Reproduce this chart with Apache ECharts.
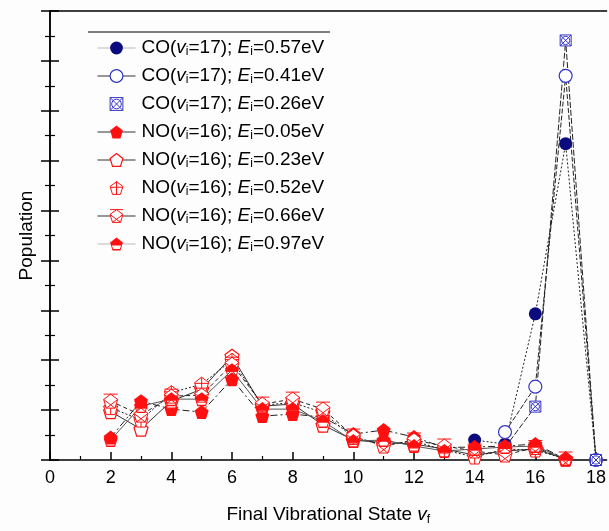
<!DOCTYPE html>
<html><head><meta charset="utf-8">
<script src="https://cdn.jsdelivr.net/npm/echarts@6/dist/echarts.min.js"></script>
<style>html,body{margin:0;padding:0;background:#fdfdfd}#c{width:609px;height:531px}</style>
</head><body><div id="c"></div>
<script>
// ---- data ----
const xTicks = [0,2,4,6,8,10,12,14,16,18];
const coX = [14,15,16,17,18];
const co057 = [0.40, 0.32, 2.93, 6.34, 0];
const co041x = [15,16,17,18];
const co041 = [0.56, 1.47, 7.70, 0];
const co026x = [15,16,17,18];
const co026 = [0.25, 1.07, 8.41, 0];
const noX = [2,3,4,5,6,7,8,9,10,11,12,13,14,15,16,17];
const no005 = [0.45,1.18,1.02,0.96,1.62,0.88,0.92,0.86,0.52,0.60,0.46,0.25,0.26,0.28,0.32,0.02];
const no023 = [0.97,0.62,1.18,1.42,2.08,1.08,1.12,0.70,0.40,0.35,0.32,0.22,0.10,0.18,0.22,0.02];
const no052 = [1.05,0.80,1.35,1.52,2.00,1.10,1.15,0.95,0.45,0.30,0.38,0.20,0.06,0.22,0.20,0.02];
const no066 = [1.18,0.90,1.28,1.30,1.92,1.12,1.22,1.02,0.48,0.28,0.40,0.28,0.18,0.10,0.25,0.02];
const no097 = [0.40,1.08,1.22,1.22,1.80,1.02,1.02,0.78,0.38,0.40,0.28,0.18,0.22,0.26,0.28,0.02];
const names = ['CO|17|0.57','CO|17|0.41','CO|17|0.26','NO|16|0.05','NO|16|0.23','NO|16|0.52','NO|16|0.66','NO|16|0.97'];

const zip = (xs, ys) => xs.map((x,i)=>[x, ys[i]]);

const PENT = 'M0,-1 L0.951,-0.309 L0.588,0.809 L-0.588,0.809 L-0.951,-0.309 Z';
const symPent = 'path://' + PENT;
const symPentPlus = 'path://' + PENT + ' M0,-1 L0,0.809 M-0.951,-0.2 L0.951,-0.2';
const symPentX = 'path://' + PENT + ' M-0.951,-0.309 L0.588,0.809 M0.951,-0.309 L-0.588,0.809 M-0.951,-1 L0.951,-1';
const symHalf = 'path://' + PENT + ' M-0.68,0.12 L-0.5,0.62 L0.5,0.62 L0.68,0.12 Z';
const symBoxX = 'path://M-1,-1 L1,-1 L1,1 L-1,1 Z M-1,-1 L1,1 M1,-1 L-1,1 M0.75,0 A0.75,0.75 0 1 1 -0.75,0 A0.75,0.75 0 1 1 0.75,0';

const RED = '#ff1010', NAVY = '#0b0b7e', BLUE = '#3434c8', BG = '#fdfdfd';

function mk(name, data, symbol, size, itemStyle, lineType, lineColor){
  return {name, type:'line', data, symbol, symbolSize:size, itemStyle,
    lineStyle:{color: lineColor || '#222', width:1, type:lineType},
    emphasis:{disabled:true}, animation:false, z: 3};
}
const styles = [
  {color:NAVY},
  {color:BG, borderColor:BLUE, borderWidth:1.2},
  {color:BG, borderColor:BLUE, borderWidth:1},
  {color:RED},
  {color:BG, borderColor:RED, borderWidth:1.2},
  {color:BG, borderColor:RED, borderWidth:1},
  {color:BG, borderColor:RED, borderWidth:1},
  {color:RED}
];
const series = [
  mk(names[0], zip(coX, co057), 'circle', 13, styles[0], [2,2]),
  mk(names[1], zip(co041x, co041), 'circle', 13, styles[1], [5,2]),
  mk(names[2], zip(co026x, co026), symBoxX, 11, styles[2], [6,2]),
  mk(names[3], zip(noX, no005), symPent, 14, styles[3], [7,3,2,3]),
  mk(names[4], zip(noX, no023), symPent, 14, styles[4], 'solid', '#333'),
  mk(names[5], zip(noX, no052), symPentPlus, 14, styles[5], [2,2]),
  mk(names[6], zip(noX, no066), symPentX, 14, styles[6], [4,3]),
  mk(names[7], zip(noX, no097), symHalf, 14, styles[7], 'solid', '#555')
];

const legendLines = ['#bbb','#333',null,'#333','#333',null,'#333','#bbb'];

const chart = echarts.init(document.getElementById('c'), null, {renderer:'canvas'});
chart.setOption({
  backgroundColor:BG,
  animation:false,
  textStyle:{fontFamily:'Liberation Sans, Arial, sans-serif'},
  grid:{left:50, top:11, right:0, bottom:68},
  legend:{
    orient:'vertical', left:92, top:33, itemWidth:38, itemHeight:16, itemGap:8,
    selectedMode:false,
    data: names.map((n,i)=>({name:n, itemStyle: styles[i],
      lineStyle: legendLines[i] ? {color:legendLines[i], width:1, type:'solid'} : {width:0, opacity:0}})),
    formatter: (n)=>{ const p=n.split('|'); return `{n|${p[0]}(}{i|v}{s|i}{n|=${p[1]}); }{i|E}{s|i}{n|=${p[2]}eV}`; },
    textStyle:{color:'#000', fontSize:19, padding:[0,0,0,1], rich:{
      n:{fontSize:19, lineHeight:22, fontFamily:'Liberation Sans', color:'#000'},
      i:{fontSize:19, lineHeight:22, fontStyle:'italic', fontFamily:'Liberation Sans', color:'#000'},
      s:{fontSize:12, lineHeight:14, fontFamily:'Liberation Sans', color:'#000', padding:[8,0,0,0]}
    }}
  },
  graphic:[{type:'line', shape:{x1:88, y1:32, x2:330, y2:32}, style:{stroke:'#000', lineWidth:1}}],
  xAxis:[{
    type:'value', min:0, max:18.35, interval:2,
    axisLine:{lineStyle:{color:'#000', width:1.5}},
    axisTick:{inside:true, length:8, lineStyle:{color:'#000', width:1.5}, customValues: xTicks},
    minorTick:{show:true, splitNumber:2, length:4, lineStyle:{color:'#000', width:1.2}},
    axisLabel:{color:'#000', fontSize:18, margin:9, customValues: xTicks},
    splitLine:{show:false},
    name:'{n|Final Vibrational State }{i|v}{s|f}', nameLocation:'middle', nameGap:44,
    nameTextStyle:{rich:{
      n:{fontSize:19, color:'#000', fontFamily:'Liberation Sans'},
      i:{fontSize:19, fontStyle:'italic', color:'#000', fontFamily:'Liberation Sans'},
      s:{fontSize:12, color:'#000', fontFamily:'Liberation Sans', padding:[10,0,0,0]}
    }}
  },{
    type:'value', position:'top', min:0, max:18.35,
    axisLine:{show:true, onZero:false, lineStyle:{color:'#000', width:1.5}},
    axisTick:{show:false}, axisLabel:{show:false}, splitLine:{show:false}
  }],
  yAxis:[{
    type:'value', min:0, max:9, interval:1,
    axisLine:{show:true, lineStyle:{color:'#000', width:1.5}},
    axisTick:{show:true, inside:true, length:9, lineStyle:{color:'#000', width:1.5}},
    minorTick:{show:true, splitNumber:2, length:5, lineStyle:{color:'#000', width:1.2}},
    axisLabel:{show:false}, splitLine:{show:false},
    name:'Population', nameLocation:'middle', nameGap:14,
    nameTextStyle:{fontSize:19, color:'#000', fontFamily:'Liberation Sans'}
  },{
    type:'value', position:'right', min:0, max:9, interval:1,
    axisLine:{show:true, lineStyle:{color:'#000', width:1.5}},
    axisTick:{show:true, inside:true, length:9, lineStyle:{color:'#000', width:1.5}},
    minorTick:{show:true, splitNumber:2, length:5, lineStyle:{color:'#000', width:1.2}},
    axisLabel:{show:false}, splitLine:{show:false}
  }],
  series
});
</script></body></html>
